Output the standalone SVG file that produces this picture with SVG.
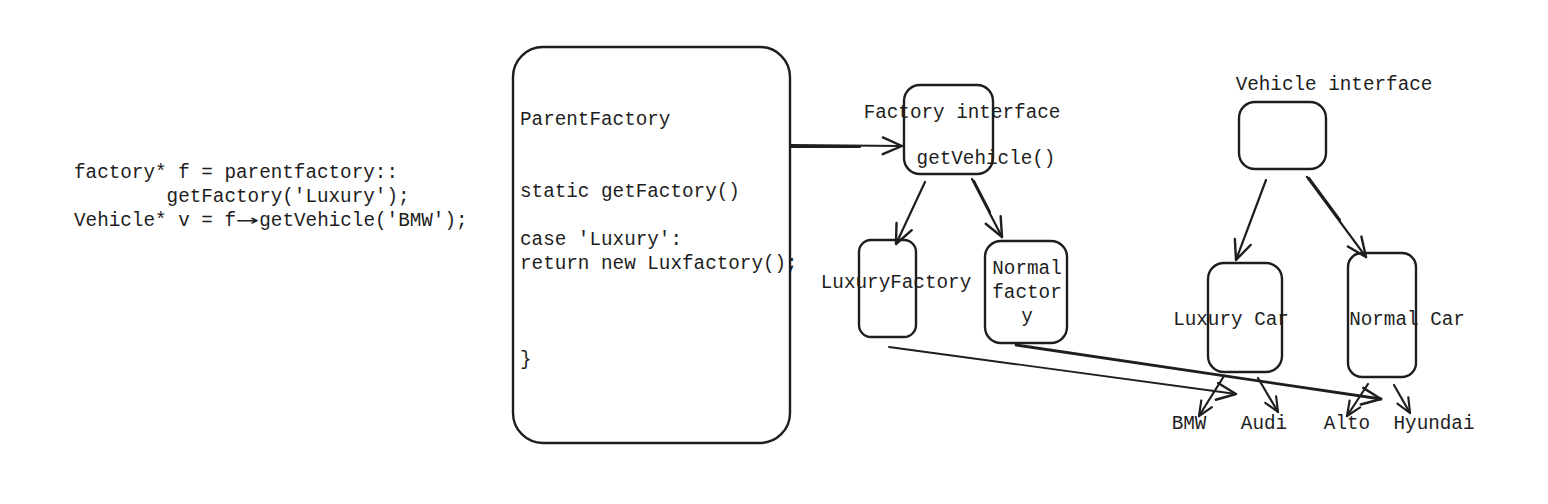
<svg xmlns="http://www.w3.org/2000/svg" width="1548" height="504" viewBox="0 0 1548 504">
<style>
text{font-family:"Liberation Mono","DejaVu Sans Mono",monospace;font-size:19.3px;fill:#1e1e1e;}
.box{fill:none;stroke:#1e1e1e;stroke-width:2.4;}
.ln{fill:none;stroke:#1e1e1e;stroke-width:2.2;stroke-linecap:round;}
.c{text-anchor:middle;}
</style>
<defs>
<marker id="ah" viewBox="0 0 20 20" refX="18" refY="10" markerWidth="24" markerHeight="24" markerUnits="userSpaceOnUse" orient="auto">
<path d="M2,3 L18,10 L2,17" fill="none" stroke="#1e1e1e" stroke-width="2" stroke-linecap="round" stroke-linejoin="round"/>
</marker>
<marker id="ahs" viewBox="0 0 20 20" refX="18" refY="10" markerWidth="18" markerHeight="18" markerUnits="userSpaceOnUse" orient="auto">
<path d="M2,3 L18,10 L2,17" fill="none" stroke="#1e1e1e" stroke-width="2.4" stroke-linecap="round" stroke-linejoin="round"/>
</marker>
</defs>
<rect width="1548" height="504" fill="#ffffff"/>

<g id="code">
<text x="74" y="178" xml:space="preserve">factory* f = parentfactory::</text>
<text x="74" y="202" xml:space="preserve">        getFactory('Luxury');</text>
<text x="74" y="226" xml:space="preserve">Vehicle* v = f</text>
<text x="236" y="226" textLength="23" lengthAdjust="spacingAndGlyphs" style="font-family:'DejaVu Sans Mono',monospace;">→</text>
<text x="259.3" y="226">getVehicle('BMW');</text>
</g>

<g id="parentFactory">
<rect class="box" x="513" y="47" width="277" height="396" rx="30"/>
<text x="520" y="125">ParentFactory</text>
<text x="520" y="197">static getFactory()</text>
<text x="520" y="245">case 'Luxury':</text>
<text x="520" y="269">return new Luxfactory();</text>
<text x="520" y="365">}</text>
</g>

<g id="factoryInterface">
<rect class="box" x="904" y="85" width="89" height="89" rx="16"/>
<text class="c" x="962" y="118">Factory interface</text>
<text class="c" x="986" y="164">getVehicle()</text>
</g>

<g id="luxuryFactory">
<rect class="box" x="859" y="240" width="57" height="97" rx="12"/>
<text class="c" x="896" y="288">LuxuryFactory</text>
</g>

<g id="normalFactory">
<rect class="box" x="985" y="241" width="82" height="102" rx="16"/>
<text class="c" x="1027" y="274">Normal</text>
<text class="c" x="1027" y="298">factor</text>
<text class="c" x="1027" y="322">y</text>
</g>

<g id="vehicleInterface">
<text class="c" x="1334" y="90">Vehicle interface</text>
<rect class="box" x="1239" y="102" width="87" height="67" rx="16"/>
</g>

<g id="luxuryCar">
<rect class="box" x="1208" y="263" width="74" height="109" rx="16"/>
<text class="c" x="1231" y="325">Luxury Car</text>
</g>

<g id="normalCar">
<rect class="box" x="1348" y="253" width="68" height="124" rx="14"/>
<text class="c" x="1407" y="325">Normal Car</text>
</g>

<g id="leaves">
<text class="c" x="1189" y="429">BMW</text>
<text class="c" x="1264" y="429">Audi</text>
<text class="c" x="1347" y="429">Alto</text>
<text class="c" x="1434" y="429">Hyundai</text>
</g>

<g id="connectors">
<line class="ln" x1="791" y1="145" x2="902" y2="146" marker-end="url(#ah)"/>
<line class="ln" x1="791" y1="147" x2="860" y2="147"/>
<line class="ln" x1="925" y1="182" x2="896" y2="244" marker-end="url(#ah)"/>
<line class="ln" x1="972" y1="179" x2="1002" y2="237" marker-end="url(#ah)"/>
<line class="ln" x1="974" y1="181" x2="990" y2="212"/>
<line class="ln" x1="1266" y1="180" x2="1236" y2="260" marker-end="url(#ah)"/>
<line class="ln" x1="1307" y1="177" x2="1366" y2="257" marker-end="url(#ah)"/>
<line class="ln" x1="1309" y1="178" x2="1340" y2="220"/>
<line class="ln" x1="889" y1="347" x2="1236" y2="394" marker-end="url(#ah)" style="stroke-width:1.8"/>
<line class="ln" x1="1016" y1="345" x2="1381" y2="399" marker-end="url(#ah)" style="stroke-width:2.8"/>
<line class="ln" x1="1224" y1="376" x2="1199" y2="416" marker-end="url(#ahs)"/>
<line class="ln" x1="1258" y1="378" x2="1278" y2="412" marker-end="url(#ahs)"/>
<line class="ln" x1="1368" y1="384" x2="1347" y2="416" marker-end="url(#ahs)"/>
<line class="ln" x1="1394" y1="385" x2="1410" y2="413" marker-end="url(#ahs)"/>
</g>
</svg>
